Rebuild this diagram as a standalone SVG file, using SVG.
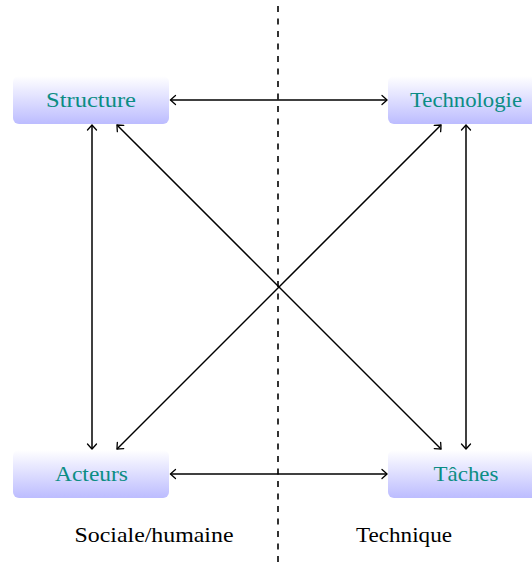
<svg xmlns="http://www.w3.org/2000/svg" width="532" height="564" viewBox="0 0 532 564">
<defs>
<linearGradient id="g" x1="0" y1="0" x2="0" y2="1">
<stop offset="0" stop-color="#ffffff"/>
<stop offset="1" stop-color="#bcbcff"/>
</linearGradient>
<marker id="ah" viewBox="-7 -6 9 12" markerWidth="9" markerHeight="12" refX="0" refY="0" orient="auto-start-reverse" markerUnits="userSpaceOnUse">
<path d="M -5 -4.5 Q -1.3 -1.3 0 0 Q -1.3 1.3 -5 4.5" fill="none" stroke="#000" stroke-width="1.3" stroke-linecap="round"/>
</marker>
</defs>
<style>
.box{fill:url(#g);stroke:none}
.lbl{font-size:21px;fill:#0b8d84;text-anchor:middle}
.cap{font-size:21px;fill:#000;text-anchor:middle}
.c{stroke:#000;stroke-width:1.5;fill:none;marker-start:url(#ah);marker-end:url(#ah)}
</style>
<line x1="278" y1="0" x2="278" y2="564" stroke="#000" stroke-width="1.6" stroke-dasharray="6,6.5" stroke-dashoffset="-6"/>
<g id="connectors">
<line class="c" x1="170.5" y1="100" x2="387" y2="100"/>
<line class="c" x1="170.5" y1="474" x2="387" y2="474"/>
<line class="c" x1="92" y1="125" x2="92" y2="449"/>
<line class="c" x1="466" y1="125" x2="466" y2="449"/>
<line class="c" x1="117" y1="125" x2="441" y2="449"/>
<line class="c" x1="441" y1="125" x2="117" y2="449"/>
</g>
<g id="structure">
<rect class="box" x="13" y="76" width="156" height="48" rx="6"/>
<text class="lbl" font-family="Liberation Serif, DejaVu Serif, serif" x="91" y="107" textLength="90" lengthAdjust="spacingAndGlyphs">Structure</text>
</g>
<g id="technologie">
<rect class="box" x="388" y="76" width="156" height="48" rx="6"/>
<text class="lbl" font-family="Liberation Serif, DejaVu Serif, serif" x="466" y="107" textLength="112" lengthAdjust="spacingAndGlyphs">Technologie</text>
</g>
<g id="acteurs">
<rect class="box" x="13" y="450" width="156" height="48" rx="6"/>
<text class="lbl" font-family="Liberation Serif, DejaVu Serif, serif" x="91.5" y="481" textLength="73" lengthAdjust="spacingAndGlyphs">Acteurs</text>
</g>
<g id="taches">
<rect class="box" x="388" y="450" width="156" height="48" rx="6"/>
<text class="lbl" font-family="Liberation Serif, DejaVu Serif, serif" x="466" y="481" textLength="65" lengthAdjust="spacingAndGlyphs">Tâches</text>
</g>
<text class="cap" font-family="Liberation Serif, DejaVu Serif, serif" x="154" y="542" textLength="159" lengthAdjust="spacingAndGlyphs">Sociale/humaine</text>
<text class="cap" font-family="Liberation Serif, DejaVu Serif, serif" x="404" y="542" textLength="96" lengthAdjust="spacingAndGlyphs">Technique</text>
</svg>
